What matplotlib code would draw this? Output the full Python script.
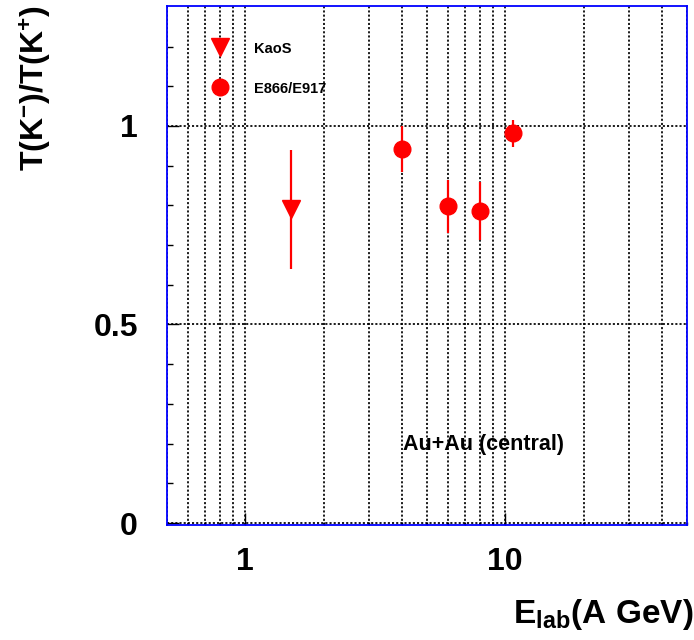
import numpy as np
import matplotlib
matplotlib.use("Agg")
import matplotlib.pyplot as plt
from matplotlib.lines import Line2D
from matplotlib.ticker import FixedLocator, NullFormatter

plt.rcParams['font.family'] = ['Liberation Sans', 'DejaVu Sans']
plt.rcParams['font.weight'] = 'bold'
plt.rcParams['mathtext.fontset'] = 'custom'
plt.rcParams['mathtext.rm'] = 'Liberation Sans:bold'
plt.rcParams['mathtext.bf'] = 'Liberation Sans:bold'
plt.rcParams['mathtext.it'] = 'Liberation Sans:bold'

# KaoS point (SIS)
kaos_elab = [1.5]
kaos_ratio = [0.79]
kaos_err = [0.15]

# E866/E917 points (AGS)
ags_elab = [4.0, 6.0, 8.0, 10.7]
ags_ratio = [0.941, 0.798, 0.786, 0.981]
ags_err = [0.058, 0.067, 0.073, 0.033]

ytick_vals = [0, 0.5, 1]
ytick_labels = ['0', '0.5', '1']
xtick_vals = [1, 10]
xtick_labels = ['1', '10']
legend_labels = ['KaoS', 'E866/E917']

red = '#ff0000'
blue = '#0000ff'

fig = plt.figure(figsize=(6.94, 6.4), dpi=100)
ax = fig.add_axes([167/694, 1 - 525/640, 520/694, 519/640])

ax.set_xscale('log')
ax.set_xlim(0.5, 50)
ax.set_ylim(-0.005, 1.302)

ax.errorbar(kaos_elab, kaos_ratio, yerr=kaos_err, fmt='v', color=red,
            ms=12.5, elinewidth=1.6, capsize=0, zorder=3)
ax.errorbar(ags_elab, ags_ratio, yerr=ags_err, fmt='o', color=red,
            ms=12, elinewidth=1.6, capsize=0, zorder=3)

# ticks: log x with minor gridlines, linear y with 0.1 minor ticks
minor_x = [v * d for d in (0.1, 1, 10) for v in range(2, 10)]
minor_x = [v for v in minor_x if 0.5 <= v <= 50 and v not in (1, 10)]
ax.xaxis.set_major_locator(FixedLocator(xtick_vals))
ax.xaxis.set_minor_locator(FixedLocator(minor_x))
ax.xaxis.set_minor_formatter(NullFormatter())
ax.set_xticklabels(xtick_labels)
ax.yaxis.set_major_locator(FixedLocator(ytick_vals))
ax.yaxis.set_minor_locator(FixedLocator(np.arange(0.1, 1.3, 0.1)))
ax.set_yticklabels(ytick_labels)

ax.tick_params(axis='both', which='both', direction='in', color='black',
               width=1.0, top=False, right=False)
ax.tick_params(axis='both', which='major', length=8.6, labelsize=23)
ax.tick_params(axis='both', which='minor', length=4.2)
ax.tick_params(axis='x', which='minor', length=2.5)
ax.tick_params(axis='x', which='major', pad=15.5)
ax.tick_params(axis='y', which='major', pad=21)

grid_style = dict(color='black', linewidth=1.25, linestyle=(0, (1.2, 1.2)))
ax.grid(True, axis='x', which='both', **grid_style)
ax.grid(True, axis='y', which='major', **grid_style)
ax.set_axisbelow(True)

for sp in ax.spines.values():
    sp.set_color(blue)
    sp.set_linewidth(1.3)

handles = [
    Line2D([], [], marker='v', color=red, ms=12.5, linestyle='none'),
    Line2D([], [], marker='o', color=red, ms=12, linestyle='none'),
]
ax.legend(handles, legend_labels, loc='upper left',
          bbox_to_anchor=(0.0879, 0.9318), frameon=False,
          prop={'size': 10.5, 'weight': 'bold'},
          handlelength=1.0, handleheight=1.0, handletextpad=1.85,
          labelspacing=1.72, borderpad=0, borderaxespad=0)

ax.text(0.454, 0.1445, 'Au+Au (central)', transform=ax.transAxes,
        fontsize=15.5, fontweight='bold', va='baseline', ha='left')

fig.text(36/694, 1 - 88/640, r'$\mathbf{T(K^{-})/T(K^{+})}$',
         rotation=90, ha='center', va='center', fontsize=23)
fig.text(693/694, 17/640, r'$\mathbf{E_{lab}(A\ GeV)}$',
         ha='right', va='baseline', fontsize=24)

fig.savefig('out.png', dpi=100)
